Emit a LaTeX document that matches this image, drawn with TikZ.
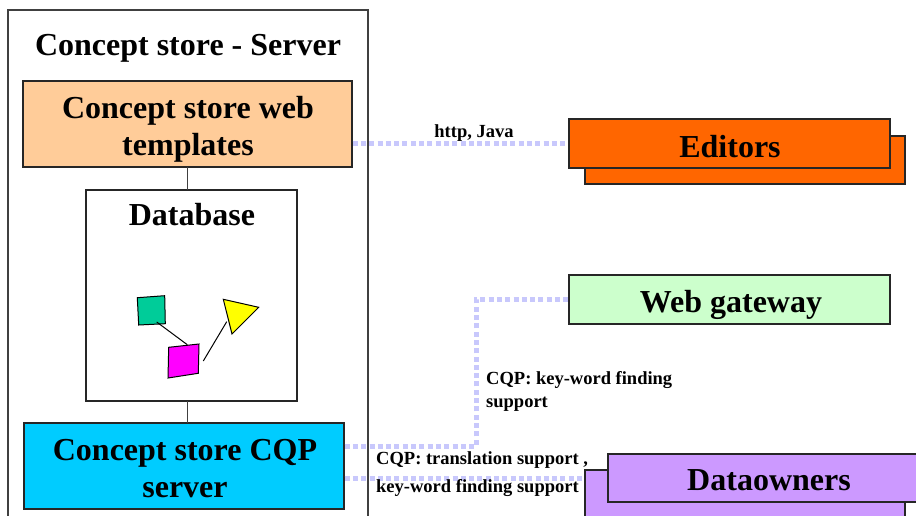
\documentclass[tikz,border=0pt]{standalone}
\usepackage{fontspec}
\setmainfont{Liberation Serif}
\begin{document}
\begin{tikzpicture}[x=1pt,y=-1pt,
  big/.style={font=\bfseries\fontsize{32}{37}\selectfont, inner sep=0pt, anchor=base},
  small/.style={font=\bfseries\fontsize{18.5}{23}\selectfont, inner sep=0pt, anchor=base west},
  box/.style={draw=black!85, line width=1.3pt, rectangle, inner sep=0pt},
  link/.style={draw=black!75, line width=1.2pt},
  dotlink/.style={draw=lav, line width=5pt, dash pattern=on 5pt off 3.3pt},
  glyph/.style={draw=black, line width=1pt}]
\definecolor{peach}{HTML}{FFCC99}
\definecolor{cqpblue}{HTML}{00CCFF}
\definecolor{edorange}{HTML}{FF6600}
\definecolor{gwgreen}{HTML}{CCFFCC}
\definecolor{dolilac}{HTML}{CC99FF}
\definecolor{lav}{HTML}{C8C8FC}
\definecolor{seagreen}{HTML}{00CC99}
\definecolor{puremagenta}{HTML}{FF00FF}
\definecolor{pureyellow}{HTML}{FFFF00}
\useasboundingbox (0,0) rectangle (916,515);
\fill[white] (0,0) rectangle (916,515);

% server frame (open at the bottom)
\draw[link] (8,520) -- (8,10) -- (368,10) -- (368,520);
\node[big] (title) at (188,55) {Concept store - Server};

% server components
\node[box, fill=peach, minimum width=329, minimum height=86] (tmpl) at (187.5,124) {};
\node[big] (tmpltxt1) at (188,118) {Concept store web};
\node[big] (tmpltxt2) at (188,155) {templates};

\node[box, fill=white, minimum width=211, minimum height=211] (db) at (191.5,295.5) {};
\node[big] (dbtxt) at (192,225) {Database};

\node[box, fill=cqpblue, minimum width=320, minimum height=86] (cqp) at (184,466) {};
\node[big] (cqptxt1) at (185,460) {Concept store CQP};
\node[big] (cqptxt2) at (185,497) {server};

\draw[link] (187.5,167) -- (187.5,190);
\draw[link] (187.5,401) -- (187.5,423);

% small data model inside the database
\draw[glyph, fill=seagreen] (137.3,297.7) -- (164.7,295.7) -- (165.3,323.7) -- (138.7,325) -- cycle;
\draw[glyph, fill=puremagenta] (168.7,347.3) -- (199,344) -- (198.3,373.3) -- (168,378) -- cycle;
\draw[glyph, fill=pureyellow] (223.3,299.3) -- (258.7,307.3) -- (232,334) -- cycle;
\draw[glyph] (156.7,322) -- (187.3,344.7);
\draw[glyph] (203.3,361) -- (226.7,321.7);

% clients
\node[box, fill=edorange, minimum width=320, minimum height=48] (edback) at (745,160) {};
\node[box, fill=edorange, minimum width=321, minimum height=49] (ed) at (729.5,143.5) {};
\node[big] (edtxt) at (730,157.5) {Editors};

\node[box, fill=gwgreen, minimum width=321, minimum height=49] (gw) at (729.5,299.5) {};
\node[big] (gwtxt) at (731,312) {Web gateway};

\node[box, fill=dolilac, minimum width=320, minimum height=50] (doback) at (745,495) {};
\node[box, fill=dolilac, minimum width=320, minimum height=48] (do) at (768,478) {};
\node[big] (dotxt) at (769,490) {Dataowners};

% protocol links
\coordinate (bendlo) at (476,446);
\coordinate (bendhi) at (476,299.5);
\draw[dotlink] (tmpl.east |- ed.west) -- (ed.west);
\draw[dotlink] (cqp.east |- bendlo) -- (bendlo) -- (bendhi) -- (gw.west);
\draw[dotlink] (cqp.east |- do.west) -- (doback.west |- do.west);

\node[small, anchor=base] (lbl1) at (474,137) {http, Java};
\node[small] (lbl2a) at (486,384) {CQP: key-word finding};
\node[small] (lbl2b) at (486,407) {support};
\node[small] (lbl3a) at (376,464) {CQP: translation support ,};
\node[small] (lbl3b) at (376,492) {key-word finding support};
\end{tikzpicture}
\end{document}
